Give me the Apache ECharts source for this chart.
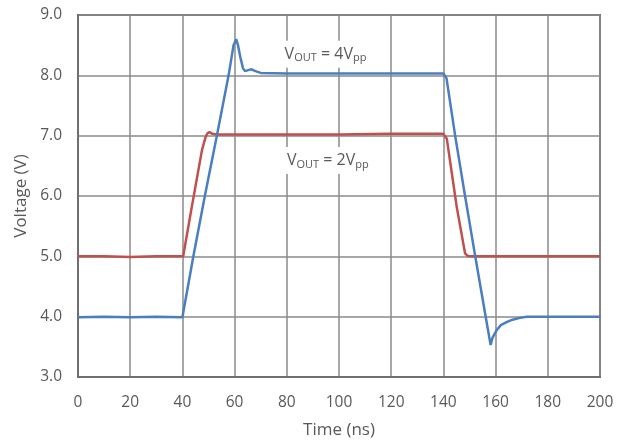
<!DOCTYPE html>
<html>
<head>
<meta charset="utf-8">
<script src="https://cdn.jsdelivr.net/npm/echarts@6/dist/echarts.min.js"></script>
<style>
  html, body { margin: 0; padding: 0; background: #fff; }
  #main { width: 626px; height: 447px; }
</style>
</head>
<body>
<div id="main"></div>
<script>
// x axis ticks (ns) and y axis ticks (V)
const timeTicks = [0, 20, 40, 60, 80, 100, 120, 140, 160, 180, 200];
const voltTicks = [3, 4, 5, 6, 7, 8, 9];

// VOUT = 4Vpp trace (blue)
const blueTime = [0, 10, 20, 30, 40, 40.4, 44.2, 48.6, 53.2, 57.7, 59.6, 60.6, 61.3, 62.2, 63.2, 64.0,
  65.5, 66.5, 68, 70, 80, 100, 120, 140, 140.6, 141.2, 144.5, 148.3, 152.2, 156.2, 158.1, 158.8,
  160.3, 162.0, 164.2, 166.5, 169.3, 172, 180, 200];
const blueVolt = [3.99, 4.0, 3.99, 4.0, 3.99, 4.0, 5.0, 6.0, 7.0, 8.0, 8.5, 8.6, 8.5, 8.3, 8.12, 8.07,
  8.09, 8.1, 8.07, 8.04, 8.03, 8.03, 8.03, 8.03, 8.01, 7.95, 7.0, 6.0, 5.0, 4.0, 3.53, 3.65,
  3.77, 3.86, 3.91, 3.95, 3.98, 4.0, 4.0, 4.0];

// VOUT = 2Vpp trace (red)
const redTime = [0, 10, 20, 30, 40.3, 43.6, 47.5, 48.9, 49.6, 50.4, 51.5, 53, 80, 100, 120, 140,
  140.6, 141.3, 144.5, 145.1, 148.3, 149.2, 150, 170, 200];
const redVolt = [5.0, 5.0, 4.99, 5.0, 5.0, 5.82, 6.76, 6.98, 7.04, 7.06, 7.03, 7.02, 7.02, 7.02, 7.03, 7.03,
  7.0, 6.95, 6.0, 5.82, 5.05, 5.01, 5.0, 5.0, 5.0];

// annotation anchors [ns, V]
const label4Pos = [78.4, 8.35];
const label2Pos = [79.3, 6.59];

const textColor = '#595959';
const font = 'Open Sans';

function pairs(xs, ys) {
  return xs.map((x, i) => [x, ys[i]]);
}

function noteLabel(amp) {
  return {
    show: true,
    position: 'inside',
    align: 'left',
    verticalAlign: 'middle',
    backgroundColor: '#fff',
    padding: [4, 4, 4, 2],
    formatter: '{v|V}{s|OUT}{v| = ' + amp + 'V}{s|pp}',
    rich: {
      v: { fontFamily: font, fontSize: 16, color: textColor, lineHeight: 19 },
      s: { fontFamily: font, fontSize: 11, color: textColor, lineHeight: 19, padding: [8, 0, 0, 0] }
    }
  };
}

const chart = echarts.init(document.getElementById('main'));
chart.setOption({
  animation: false,
  grid: {
    left: 78, right: 26, top: 15, bottom: 70,
    show: true, borderColor: '#6f6f6f', borderWidth: 2
  },
  xAxis: {
    type: 'value',
    min: timeTicks[0],
    max: timeTicks[timeTicks.length - 1],
    interval: timeTicks[1] - timeTicks[0],
    name: 'Time (ns)',
    nameLocation: 'middle',
    nameGap: 45,
    nameTextStyle: { fontFamily: font, fontSize: 17, color: textColor },
    axisLine: { show: true, lineStyle: { color: '#6f6f6f', width: 2 } },
    axisTick: { show: false },
    axisLabel: { fontFamily: font, fontSize: 15.5, color: textColor, margin: 18 },
    splitLine: { show: true, lineStyle: { color: '#8a8a8a', width: 1.5 } }
  },
  yAxis: {
    type: 'value',
    min: voltTicks[0],
    max: voltTicks[voltTicks.length - 1],
    interval: voltTicks[1] - voltTicks[0],
    name: 'Voltage (V)',
    nameLocation: 'middle',
    nameGap: 45,
    nameTextStyle: { fontFamily: font, fontSize: 17, color: textColor },
    axisLine: { show: true, lineStyle: { color: '#6f6f6f', width: 2 } },
    axisTick: { show: false },
    axisLabel: { fontFamily: font, fontSize: 15.5, color: textColor, margin: 16, formatter: v => v.toFixed(1) },
    splitLine: { show: true, lineStyle: { color: '#8a8a8a', width: 1.5 } }
  },
  series: [
    {
      name: 'VOUT = 2Vpp',
      type: 'line',
      data: pairs(redTime, redVolt),
      showSymbol: false,
      lineStyle: { color: '#c0504d', width: 2.5 },
      z: 3,
      markPoint: {
        symbol: 'rect', symbolSize: 0, silent: true,
        data: [{ coord: label2Pos, label: noteLabel(2) }]
      }
    },
    {
      name: 'VOUT = 4Vpp',
      type: 'line',
      data: pairs(blueTime, blueVolt),
      showSymbol: false,
      lineStyle: { color: '#4a7ebf', width: 2.5 },
      z: 4,
      markPoint: {
        symbol: 'rect', symbolSize: 0, silent: true,
        data: [{ coord: label4Pos, label: noteLabel(4) }]
      }
    }
  ]
});
</script>
</body>
</html>
